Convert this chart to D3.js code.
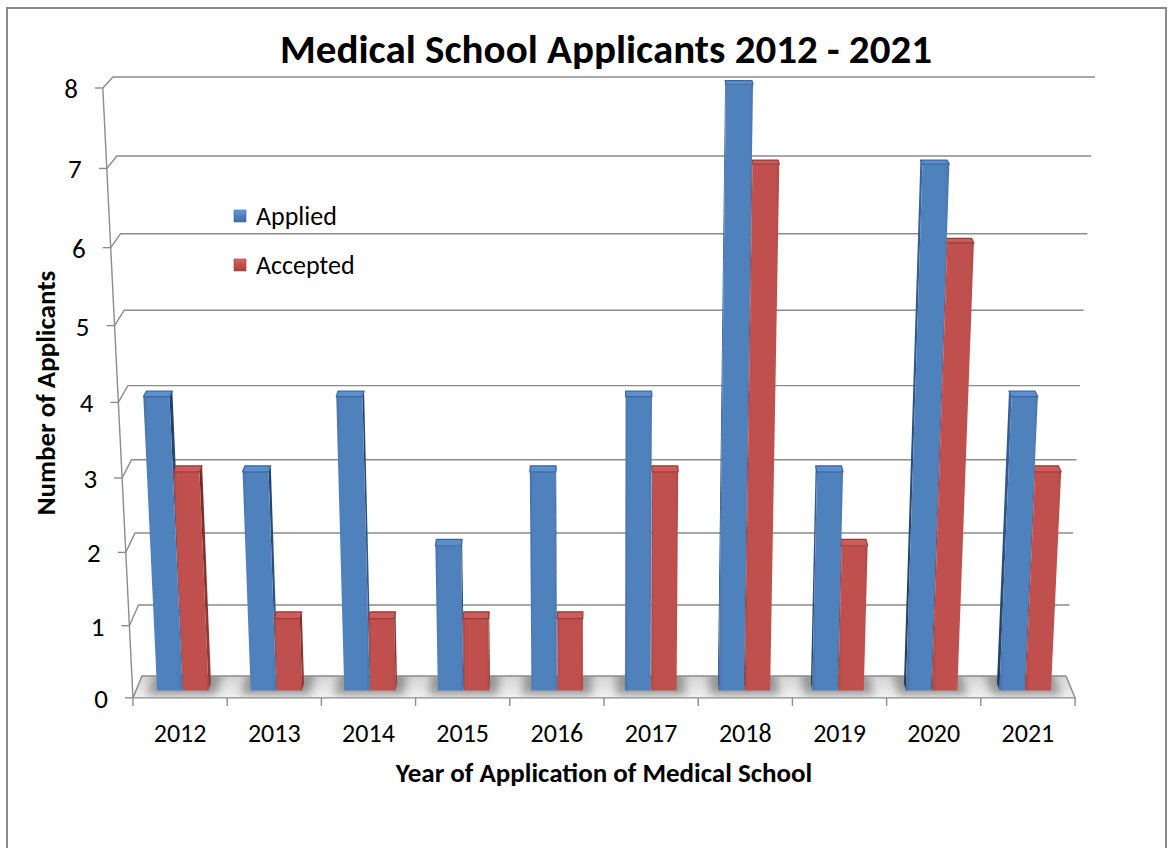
<!DOCTYPE html>
<html>
<head>
<meta charset="utf-8">
<script src="https://cdn.jsdelivr.net/npm/d3@7"></script>
<style>
  html, body { margin: 0; padding: 0; background: #fff; }
  svg { display: block; font-family: Carlito, Calibri, Lato, "Open Sans", sans-serif; }
</style>
</head>
<body>
<svg id="chart" width="1169" height="848"></svg>
<script>
// ---- data ----
const years = ["2012", "2013", "2014", "2015", "2016", "2017", "2018", "2019", "2020", "2021"];
const applied = [4, 3, 4, 2, 3, 4, 8, 3, 7, 4];
const accepted = [3, 1, 1, 1, 1, 3, 7, 2, 6, 3];
const seriesNames = ["Applied", "Accepted"];
const valueTicks = [0, 1, 2, 3, 4, 5, 6, 7, 8];

const series = [
  { name: seriesNames[0], values: applied, front: "#4F81BD", top: "#5c8fcc", edge: "#3b679c", sideA: "#1f3b5e", sideB: "#3a69a1", band: [0.225, 0.497] },
  { name: seriesNames[1], values: accepted, front: "#C0504D", top: "#cd5d5a", edge: "#943c3a", sideA: "#6e2725", sideB: "#9c3f3c", band: [0.503, 0.775] }
];

// ---- 3D box (world units) and perspective camera ----
const W = 375.4, H = 247.3, D = 21.4;        // floor width, wall height, floor depth
const barZ0 = 7.2, barZ1 = 14.2;             // depth extent of each column
const pitch = 15 * Math.PI / 180;
const cam = { x: W / 2, y: 443.3, dist: 982.7, f: 2670, cx: 604, cy: 261.6 };
const cP = Math.cos(pitch), sP = Math.sin(pitch);

function project(X, Y, Z) {
  const dx = X - cam.x, dy = Y - cam.y, dz = Z + cam.dist;
  const yc = dy * cP + dz * sP;
  const zc = -dy * sP + dz * cP;
  return [cam.cx + cam.f * dx / zc, cam.cy - cam.f * yc / zc];
}

const x = d3.scaleBand().domain(years).range([0, W]).padding(0);
const y = d3.scaleLinear().domain([0, 8]).range([0, H]);

const svg = d3.select("#chart");
const defs = svg.append("defs");

// soft blur for floor shadows
defs.append("filter").attr("id", "soft").attr("x", "-50%").attr("y", "-50%").attr("width", "200%").attr("height", "200%")
  .append("feGaussianBlur").attr("stdDeviation", 4);

const floorPts = [project(0, 0, 0), project(W, 0, 0), project(W, 0, D), project(0, 0, D)];
defs.append("clipPath").attr("id", "floorClip")
  .append("polygon").attr("points", floorPts.map(p => p.join(",")).join(" "));

const floorGrad = defs.append("linearGradient").attr("id", "floorGrad")
  .attr("x1", 0).attr("y1", 0).attr("x2", 0).attr("y2", 1);
floorGrad.append("stop").attr("offset", "0%").attr("stop-color", "#d3d3d3");
floorGrad.append("stop").attr("offset", "100%").attr("stop-color", "#f2f2f2");

series.forEach((s, i) => {
  const g = defs.append("linearGradient").attr("id", "side" + i).attr("x1", 0).attr("y1", 0).attr("x2", 1).attr("y2", 0);
  g.append("stop").attr("offset", "0%").attr("stop-color", s.sideA);
  g.append("stop").attr("offset", "100%").attr("stop-color", s.sideB);
  const f = defs.append("linearGradient").attr("id", "front" + i).attr("x1", 0).attr("y1", 0).attr("x2", 1).attr("y2", 0);
  f.append("stop").attr("offset", "0%").attr("stop-color", d3.color(s.front).darker(0.35));
  f.append("stop").attr("offset", "12%").attr("stop-color", s.front);
  f.append("stop").attr("offset", "88%").attr("stop-color", s.front);
  f.append("stop").attr("offset", "100%").attr("stop-color", d3.color(s.front).darker(0.25));
  const m = defs.append("linearGradient").attr("id", "mark" + i).attr("x1", 0).attr("y1", 0).attr("x2", 0).attr("y2", 1);
  m.append("stop").attr("offset", "0%").attr("stop-color", d3.color(s.front).brighter(0.6));
  m.append("stop").attr("offset", "45%").attr("stop-color", s.front);
  m.append("stop").attr("offset", "100%").attr("stop-color", d3.color(s.front).darker(0.4));
});

// outer frame
svg.append("rect").attr("x", 7).attr("y", 8).attr("width", 1159).attr("height", 900)
  .attr("fill", "none").attr("stroke", "#8a8a8a").attr("stroke-width", 2);

const gridColor = "#8c8c8c";
const poly = pts => pts.map(p => p.join(",")).join(" ");

// floor
svg.append("polygon").attr("points", poly(floorPts)).attr("fill", "url(#floorGrad)");

// floor shadows around the column bases
const shadowG = svg.append("g").attr("clip-path", "url(#floorClip)").append("g").attr("filter", "url(#soft)");
years.forEach(yr => {
  const bw = x.bandwidth();
  const x0 = x(yr) + bw * 0.13, x1 = x(yr) + bw * 0.87;
  shadowG.append("polygon")
    .attr("points", poly([project(x0, 0, 3), project(x1, 0, 3), project(x1, 0, D + 4), project(x0, 0, D + 4)]))
    .attr("fill", "#858585").attr("opacity", 0.8);
});

// gridlines on the back wall plus the short depth segments at the left
const grid = svg.append("g").attr("stroke", gridColor).attr("stroke-width", 1.4).attr("fill", "none");
valueTicks.forEach(v => {
  grid.append("polyline").attr("points", poly([project(0, y(v), 0), project(0, y(v), D), project(W, y(v), D)]));
});
// floor right edge and front edge
grid.append("polyline").attr("points", poly([project(W, 0, D), project(W, 0, 0), project(0, 0, 0)]));

// value axis (front-left edge) with ticks and labels
const axis = svg.append("g");
const a0 = project(0, y(0), 0), a8 = project(0, y(8), 0);
axis.append("line").attr("x1", a0[0]).attr("y1", a0[1]).attr("x2", a8[0]).attr("y2", a8[1])
  .attr("stroke", gridColor).attr("stroke-width", 1.4);
valueTicks.forEach(v => {
  const p = project(0, y(v), 0);
  axis.append("line").attr("x1", p[0] - 8).attr("y1", p[1]).attr("x2", p[0]).attr("y2", p[1])
    .attr("stroke", gridColor).attr("stroke-width", 1.4);
  axis.append("text").attr("x", p[0] - 25).attr("y", p[1] + 10).attr("text-anchor", "end")
    .attr("font-size", 27).attr("fill", "#000").text(v);
});

// category ticks and labels
const catAxis = svg.append("g");
d3.range(years.length + 1).forEach(i => {
  const X = i < years.length ? x(years[i]) : W;
  const p = project(X, 0, 0);
  catAxis.append("line").attr("x1", p[0]).attr("y1", p[1]).attr("x2", p[0]).attr("y2", p[1] + 8)
    .attr("stroke", gridColor).attr("stroke-width", 1.4);
});
years.forEach(yr => {
  const p = project(x(yr) + x.bandwidth() / 2, 0, 0);
  catAxis.append("text").attr("x", p[0]).attr("y", p[1] + 44).attr("text-anchor", "middle")
    .attr("font-size", 26).attr("fill", "#000").text(yr);
});

// columns
const bars = [];
years.forEach((yr, i) => {
  series.forEach((s, si) => {
    const bw = x.bandwidth();
    bars.push({ si, s, x0: x(yr) + bw * s.band[0], x1: x(yr) + bw * s.band[1], h: y(s.values[i]) });
  });
});
bars.sort((a, b) => Math.abs((b.x0 + b.x1) / 2 - cam.x) - Math.abs((a.x0 + a.x1) / 2 - cam.x));

const barG = svg.append("g");
bars.forEach(b => {
  const g = barG.append("g");
  const { x0, x1, h, s, si } = b;
  if (x1 < cam.x) {
    g.append("polygon").attr("points", poly([project(x1, 0, barZ0), project(x1, 0, barZ1), project(x1, h, barZ1), project(x1, h, barZ0)]))
      .attr("fill", "url(#side" + si + ")");
  } else if (x0 > cam.x) {
    g.append("polygon").attr("points", poly([project(x0, 0, barZ0), project(x0, 0, barZ1), project(x0, h, barZ1), project(x0, h, barZ0)]))
      .attr("fill", "url(#side" + si + ")");
  }
  g.append("polygon").attr("points", poly([project(x0, 0, barZ0), project(x1, 0, barZ0), project(x1, h, barZ0), project(x0, h, barZ0)]))
    .attr("fill", "url(#front" + si + ")");
  g.append("polygon").attr("points", poly([project(x0, h, barZ0), project(x1, h, barZ0), project(x1, h, barZ1), project(x0, h, barZ1)]))
    .attr("fill", s.top).attr("stroke", s.edge).attr("stroke-width", 1.2).attr("stroke-linejoin", "round");
});

// legend
const legend = svg.append("g");
series.forEach((s, i) => {
  const ly = 216 + i * 49;
  legend.append("rect").attr("x", 234).attr("y", ly - 6).attr("width", 12).attr("height", 12)
    .attr("fill", "url(#mark" + i + ")").attr("stroke", s.edge).attr("stroke-width", 0.6);
  legend.append("text").attr("x", 256).attr("y", ly + 9).attr("font-size", 26).attr("fill", "#000").text(s.name);
});

// titles
svg.append("text").attr("x", 606).attr("y", 63).attr("text-anchor", "middle")
  .attr("font-size", 41).attr("font-weight", "bold").attr("fill", "#000")
  .text("Medical School Applicants 2012 - 2021");
svg.append("text").attr("x", 604).attr("y", 782).attr("text-anchor", "middle")
  .attr("font-size", 27).attr("font-weight", "bold").attr("fill", "#000")
  .text("Year of Application of Medical School");
svg.append("text").attr("transform", "translate(55,393) rotate(-90)").attr("text-anchor", "middle")
  .attr("font-size", 27).attr("font-weight", "bold").attr("fill", "#000")
  .text("Number of Applicants");
</script>
</body>
</html>
